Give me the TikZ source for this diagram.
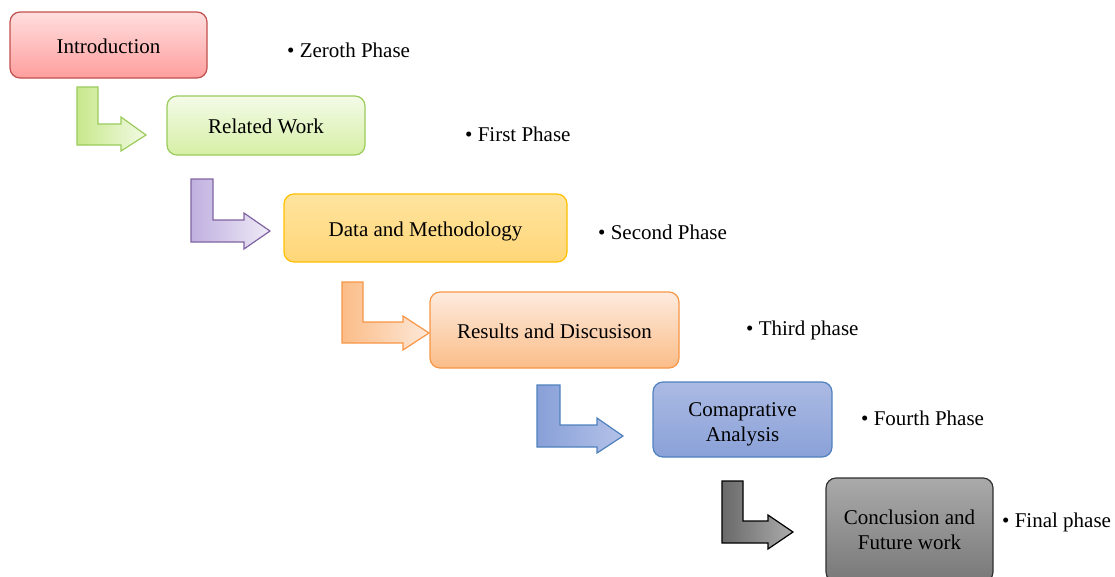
\documentclass[tikz,border=0pt]{standalone}
\usepackage{fontspec}
\setmainfont{Liberation Serif}
\newcommand\lowered[2]{\raisebox{-#1}[\height][\depth]{#2}}
\begin{document}
\begin{tikzpicture}[x=1pt,y=-1pt,
  box/.style={rounded corners=10pt, draw, line width=1.2pt, align=center,
    font=\fontsize{21}{25}\selectfont, inner sep=0pt},
  label/.style={anchor=west, font=\fontsize{21}{25}\selectfont, inner sep=0pt},
  bent/.style={line width=1.2pt, line join=miter}]
\useasboundingbox (0,0) rectangle (1115,576);

% stage boxes
\definecolor{redB}{HTML}{C0504D}
\definecolor{greenB}{HTML}{9BCB5A}
\definecolor{yellowB}{HTML}{FFC000}
\definecolor{orangeB}{HTML}{F79646}
\definecolor{blueB}{HTML}{4F81BD}
\definecolor{grayB}{HTML}{303030}

\node[box, draw=redB, top color={rgb,255:red,255;green,222;blue,222}, bottom color={rgb,255:red,255;green,158;blue,158},
  minimum width=197pt, minimum height=66pt] (intro) at (108.5,45) {\lowered{1pt}{Introduction}};
\node[box, draw=greenB, top color={rgb,255:red,244;green,251;blue,232}, bottom color={rgb,255:red,214;green,239;blue,165},
  minimum width=198pt, minimum height=59pt] (related) at (266,125.5) {\lowered{1pt}{Related Work}};
\node[box, draw=yellowB, top color={rgb,255:red,255;green,228;blue,158}, bottom color={rgb,255:red,255;green,214;blue,120},
  minimum width=283pt, minimum height=68pt] (data) at (425.5,228) {\lowered{3pt}{Data and Methodology}};
\node[box, draw=orangeB, top color={rgb,255:red,253;green,235;blue,222}, bottom color={rgb,255:red,251;green,189;blue,136},
  minimum width=249pt, minimum height=76pt] (results) at (554.5,330) {\lowered{1pt}{Results and Discusison}};
\node[box, draw=blueB, top color={rgb,255:red,171;green,186;blue,227}, bottom color={rgb,255:red,138;green,161;blue,216},
  minimum width=179pt, minimum height=75pt] (comp) at (742.5,419.5)
  {\lowered{4pt}{\begin{tabular}{@{}c@{}}Comaprative\\Analysis\end{tabular}}};
\node[box, draw=grayB, top color={rgb,255:red,170;green,170;blue,170}, bottom color={rgb,255:red,120;green,120;blue,120},
  minimum width=167pt, minimum height=104pt] (concl) at (909.5,530) {Conclusion and\\Future work};

% phase labels
\node[label] (p0) at (287,50) {• Zeroth Phase};
\node[label] (p1) at (465,134) {• First Phase};
\node[label] (p2) at (598,232) {• Second Phase};
\node[label] (p3) at (746,330) {• Third phase};
\node[label] (p4) at (861,418) {• Fourth Phase};
\node[label] (p5) at (1002,522) {• Final phase};

% bent arrows between stages
\path[bent, draw=greenB, left color={rgb,255:red,200;green,232;blue,140}, right color={rgb,255:red,242;green,250;blue,228}]
  (77,87) -- (98,87) -- (98,124) -- (121,124) -- (121,117) -- (146,135) -- (121,151) -- (121,145) -- (77,145) -- cycle;
\path[bent, draw={rgb,255:red,128;green,100;blue,162}, left color={rgb,255:red,192;green,176;blue,224}, right color={rgb,255:red,238;green,234;blue,246}]
  (191,179) -- (213,179) -- (213,220) -- (244,220) -- (244,213) -- (270,231) -- (244,249) -- (244,242) -- (191,242) -- cycle;
\path[bent, draw=orangeB, left color={rgb,255:red,251;green,189;blue,136}, right color={rgb,255:red,253;green,232;blue,216}]
  (342,282) -- (363,282) -- (363,322) -- (403,322) -- (403,316) -- (429,333) -- (403,350) -- (403,343) -- (342,343) -- cycle;
\path[bent, draw=blueB, left color={rgb,255:red,136;green,160;blue,216}, right color={rgb,255:red,180;green,194;blue,232}]
  (537,385) -- (560,385) -- (560,425) -- (597,425) -- (597,418) -- (623,436) -- (597,453) -- (597,447) -- (537,447) -- cycle;
\path[bent, draw=black, left color={rgb,255:red,105;green,105;blue,105}, right color={rgb,255:red,172;green,172;blue,172}]
  (722,481) -- (743,481) -- (743,521) -- (768,521) -- (768,515) -- (793,532) -- (768,549) -- (768,543) -- (722,543) -- cycle;
\end{tikzpicture}
\end{document}
